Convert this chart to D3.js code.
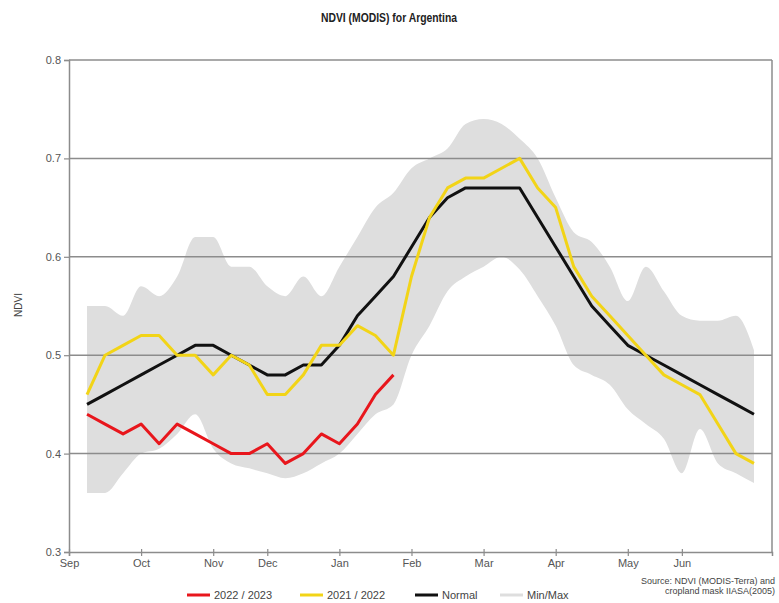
<!DOCTYPE html>
<html>
<head>
<meta charset="utf-8">
<script src="https://cdn.jsdelivr.net/npm/d3@7"></script>
<style>
  body { margin: 0; background: #fff; }
  text { font-family: "Liberation Sans", Arial, sans-serif; }
</style>
</head>
<body>
<script>
// period index along the season, 1..38
var periods = d3.range(1, 39);

var monthLabels = ["Sep", "Oct", "Nov", "Dec", "Jan", "Feb", "Mar", "Apr", "May", "Jun"];
var monthTicks = [0, 4, 8, 11, 15, 19, 23, 27, 31, 34];
var yTicks = [0.3, 0.4, 0.5, 0.6, 0.7, 0.8];

var season2223 = [0.44, 0.43, 0.42, 0.43, 0.41, 0.43, 0.42, 0.41, 0.40, 0.40, 0.41, 0.39,
  0.40, 0.42, 0.41, 0.43, 0.46, 0.48];

var season2122 = [0.46, 0.50, 0.51, 0.52, 0.52, 0.50, 0.50, 0.48, 0.50, 0.49, 0.46, 0.46,
  0.48, 0.51, 0.51, 0.53, 0.52, 0.50, 0.58, 0.64, 0.67, 0.68, 0.68, 0.69, 0.70, 0.67,
  0.65, 0.59, 0.56, 0.54, 0.52, 0.50, 0.48, 0.47, 0.46, 0.43, 0.40, 0.39];

var normal = [0.45, 0.46, 0.47, 0.48, 0.49, 0.50, 0.51, 0.51, 0.50, 0.49, 0.48, 0.48,
  0.49, 0.49, 0.51, 0.54, 0.56, 0.58, 0.61, 0.64, 0.66, 0.67, 0.67, 0.67, 0.67, 0.64,
  0.61, 0.58, 0.55, 0.53, 0.51, 0.50, 0.49, 0.48, 0.47, 0.46, 0.45, 0.44];

var bandMax = [0.55, 0.55, 0.54, 0.57, 0.56, 0.58, 0.62, 0.62, 0.59, 0.59, 0.57, 0.56,
  0.58, 0.56, 0.59, 0.62, 0.65, 0.665, 0.69, 0.70, 0.71, 0.735, 0.74, 0.735, 0.72, 0.70,
  0.66, 0.625, 0.615, 0.59, 0.555, 0.59, 0.565, 0.54, 0.535, 0.535, 0.54, 0.505];

var bandMin = [0.36, 0.36, 0.38, 0.40, 0.405, 0.42, 0.44, 0.405, 0.39, 0.385, 0.38, 0.375,
  0.38, 0.39, 0.40, 0.42, 0.44, 0.45, 0.50, 0.53, 0.565, 0.58, 0.59, 0.60, 0.587, 0.56,
  0.53, 0.49, 0.48, 0.47, 0.445, 0.43, 0.415, 0.38, 0.425, 0.39, 0.38, 0.37];

var W = 779, H = 603;
var svg = d3.select("body").append("svg").attr("width", W).attr("height", H);

var x = d3.scaleLinear().domain([0, 39]).range([69, 772]);
var y = d3.scaleLinear().domain([0.3, 0.8]).range([552, 60]);

// min/max band
var area = d3.area()
  .x(function (d, i) { return x(periods[i]); })
  .y0(function (d, i) { return y(bandMin[i]); })
  .y1(function (d) { return y(d); })
  .curve(d3.curveMonotoneX);
svg.append("path").datum(bandMax).attr("d", area).attr("fill", "#dedede");

// gridlines
svg.append("g").selectAll("line").data(yTicks.slice(1)).enter().append("line")
  .attr("x1", x(0)).attr("x2", x(39))
  .attr("y1", function (d) { return y(d); }).attr("y2", function (d) { return y(d); })
  .attr("stroke", "#8c8c8c").attr("stroke-width", 1.5);

// right border
svg.append("line").attr("x1", x(39)).attr("x2", x(39)).attr("y1", y(0.8)).attr("y2", y(0.3))
  .attr("stroke", "#8c8c8c").attr("stroke-width", 1.5);

// axes
var yAxis = svg.append("g").attr("transform", "translate(" + x(0) + ",0)")
  .call(d3.axisLeft(y).tickValues(yTicks).tickFormat(d3.format(".1f")).tickSize(5).tickPadding(3));
var xAxis = svg.append("g").attr("transform", "translate(0," + y(0.3) + ")")
  .call(d3.axisBottom(x).tickValues(monthTicks).tickFormat(function (d, i) { return monthLabels[i]; })
    .tickSize(4).tickPadding(3));
[yAxis, xAxis].forEach(function (g) {
  g.select(".domain").attr("stroke", "#8c8c8c").attr("stroke-width", 1.5);
  g.selectAll(".tick line").attr("stroke", "#8c8c8c").attr("stroke-width", 1.2);
  g.selectAll(".tick text").attr("fill", "#555").style("font-size", "11px")
    .style("font-family", "'Liberation Sans', Arial, sans-serif");
});
xAxis.selectAll(".tick line").attr("y1", -3);

// series lines
var line = d3.line()
  .x(function (d, i) { return x(periods[i]); })
  .y(function (d) { return y(d); });

var series = [
  { values: normal, color: "#111111" },
  { values: season2122, color: "#f2d417" },
  { values: season2223, color: "#e8161c" }
];
series.forEach(function (s) {
  svg.append("path").datum(s.values).attr("d", line)
    .attr("fill", "none").attr("stroke", s.color).attr("stroke-width", 3)
    .attr("stroke-linejoin", "round");
});

// title
svg.append("text").attr("x", 389).attr("y", 22).attr("text-anchor", "middle")
  .style("font-size", "12.5px").style("font-weight", "bold").attr("fill", "#222")
  .attr("textLength", 136).attr("lengthAdjust", "spacingAndGlyphs")
  .text("NDVI (MODIS) for Argentina");

// y label
svg.append("text").attr("transform", "translate(22,305) rotate(-90)")
  .attr("text-anchor", "middle").style("font-size", "10px").attr("fill", "#444")
  .text("NDVI");

// legend
var legend = [
  { label: "2022 / 2023", color: "#e8161c", x: 187 },
  { label: "2021 / 2022", color: "#f2d417", x: 300 },
  { label: "Normal", color: "#111111", x: 415 },
  { label: "Min/Max", color: "#dedede", x: 500 }
];
var lg = svg.append("g").selectAll("g").data(legend).enter().append("g");
lg.append("line").attr("x1", function (d) { return d.x; }).attr("x2", function (d) { return d.x + 23; })
  .attr("y1", 595).attr("y2", 595).attr("stroke", function (d) { return d.color; }).attr("stroke-width", 3);
lg.append("text").attr("x", function (d) { return d.x + 27; }).attr("y", 599)
  .style("font-size", "11px").attr("fill", "#444").text(function (d) { return d.label; });

// source note
var src = svg.append("text").attr("text-anchor", "end").style("font-size", "9px").attr("fill", "#444");
src.append("tspan").attr("x", 775).attr("y", 584).text("Source: NDVI (MODIS-Terra) and");
src.append("tspan").attr("x", 775).attr("y", 594).text("cropland mask IIASA(2005)");
</script>
</body>
</html>
